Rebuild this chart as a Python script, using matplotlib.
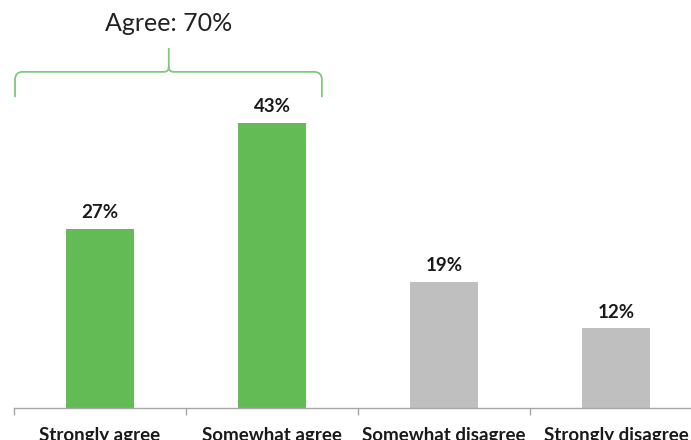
import numpy as np
import matplotlib
matplotlib.use('Agg')
import matplotlib.pyplot as plt
from matplotlib.path import Path
from matplotlib.patches import PathPatch

categories = ['Strongly agree', 'Somewhat agree', 'Somewhat disagree', 'Strongly disagree']
values = [27, 43, 19, 12]
agree_group = [0, 1]

green = '#63BB55'
grey = '#BFBFBF'
brace_color = '#7FC97A'

plt.rcParams['font.family'] = ['Lato', 'DejaVu Sans']

fig = plt.figure(figsize=(6.91, 4.40), dpi=100)
# axis runs slightly past the right edge of the figure
ax = fig.add_axes([14/691, 32/440, 688/691, 408/440])

x = np.arange(len(categories))
colors = [green if i in agree_group else grey for i in x]
ax.bar(x, values, width=0.40, color=colors)

for xi, v in zip(x, values):
    ax.annotate('%d%%' % v, (xi, v), xytext=(0, 5.5), textcoords='offset points',
                ha='center', va='bottom', fontsize=13.5, fontweight='bold', color='#1a1a1a')

ax.set_xlim(-0.5, len(categories) - 0.5)
ax.set_ylim(0, 408/6.63)

for s in ['top', 'right', 'left']:
    ax.spines[s].set_visible(False)
ax.spines['bottom'].set_color('#A6A6A6')
ax.spines['bottom'].set_linewidth(1.0)
ax.set_yticks([])
ax.set_xticks(x)
ax.set_xticklabels(categories, fontsize=13.5, fontweight='bold', color='#1a1a1a')
ax.set_xticks(np.arange(len(categories) + 1) - 0.5, minor=True)
ax.tick_params(axis='x', which='major', length=0, pad=13.5)
ax.tick_params(axis='x', which='minor', length=5, color='#A6A6A6', width=1.0)

# curly brace over the "agree" bars
x0, x1, xc = -0.494, 1.29, 0.40
yb, ym, yt = 46.9, 50.7, 54.3
rx, ry = 0.045, 1.2
verts = [(x0, yb), (x0, ym - ry), (x0, ym), (x0 + rx, ym),
         (xc - rx*0.6, ym), (xc, ym), (xc, ym + ry*0.7), (xc, yt)]
codes = [Path.MOVETO, Path.LINETO, Path.CURVE3, Path.CURVE3,
         Path.LINETO, Path.CURVE3, Path.CURVE3, Path.LINETO]
ax.add_patch(PathPatch(Path(verts, codes), fill=False, edgecolor=brace_color, lw=1.3, clip_on=False))
verts = [(x1, yb), (x1, ym - ry), (x1, ym), (x1 - rx, ym),
         (xc + rx*0.6, ym), (xc, ym), (xc, ym + ry*0.7)]
codes = [Path.MOVETO, Path.LINETO, Path.CURVE3, Path.CURVE3,
         Path.LINETO, Path.CURVE3, Path.CURVE3]
ax.add_patch(PathPatch(Path(verts, codes), fill=False, edgecolor=brace_color, lw=1.3, clip_on=False))

agree_total = sum(values[i] for i in agree_group)
ax.text(xc, 58.0, 'Agree: %d%%' % agree_total, ha='center', va='center',
        fontsize=18, color='#222222', clip_on=False)

plt.savefig('out.png', dpi=100)
